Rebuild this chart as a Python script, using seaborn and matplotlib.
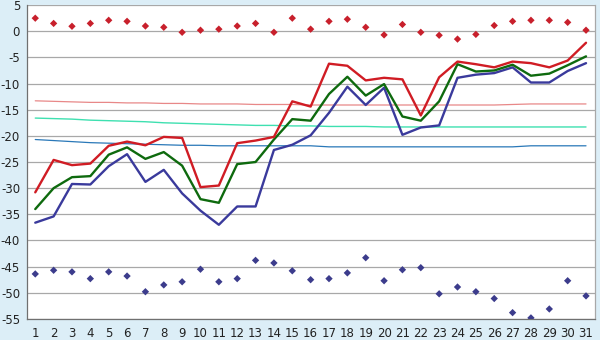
import matplotlib
matplotlib.use("Agg")
import matplotlib.pyplot as plt
import seaborn as sns
import pandas as pd

days = list(range(1, 32))

red_dots = [2.5, 1.5, 0.95, 1.5, 2.1, 1.9, 1.0, 0.76, -0.2, 0.2,
            0.4, 1.0, 1.5, -0.2, 2.5, 0.4, 1.9, 2.3, 0.76, -0.7,
            1.3, -0.2, -0.77, -1.5, -0.6, 1.1, 1.9, 2.1, 2.1, 1.7, 0.2]

blue_dots = [-46.4, -45.7, -46.0, -47.3, -46.0, -46.8, -49.8, -48.5, -47.9, -45.5,
             -47.9, -47.3, -43.8, -44.3, -45.8, -47.5, -47.3, -46.2, -43.3, -47.7,
             -45.6, -45.2, -50.2, -48.9, -49.8, -51.1, -53.8, -54.8, -53.1, -47.7, -50.6]

red_line = [-30.8, -24.6, -25.6, -25.3, -21.9, -21.1, -21.8, -20.2, -20.4, -29.8,
            -29.5, -21.4, -20.9, -20.2, -13.4, -14.4, -6.2, -6.6, -9.4, -8.9,
            -9.2, -16.1, -8.8, -5.8, -6.3, -6.9, -5.8, -6.1, -6.9, -5.6, -2.2]

green_line = [-34.0, -30.0, -27.9, -27.7, -23.6, -22.2, -24.4, -23.1, -25.7, -32.1,
              -32.8, -25.4, -25.0, -20.7, -16.8, -17.1, -12.0, -8.7, -12.3, -10.1,
              -16.3, -17.1, -13.4, -6.3, -7.7, -7.5, -6.4, -8.5, -8.1, -6.5, -4.8]

blue_line = [-36.6, -35.4, -29.2, -29.3, -25.8, -23.5, -28.8, -26.5, -31.0, -34.3,
             -37.0, -33.5, -33.5, -22.7, -21.7, -19.9, -15.6, -10.6, -14.1, -10.8,
             -19.8, -18.4, -18.0, -8.9, -8.3, -8.0, -6.9, -9.8, -9.8, -7.6, -6.1]

red_thin = [-13.3, -13.4, -13.5, -13.6, -13.6, -13.7, -13.7, -13.8, -13.8, -13.9,
            -13.9, -13.9, -14.0, -14.0, -14.0, -14.1, -14.1, -14.1, -14.1, -14.1,
            -14.1, -14.1, -14.1, -14.1, -14.1, -14.1, -14.0, -13.9, -13.9, -13.9, -13.9]

cyan_thin = [-16.6, -16.7, -16.8, -17.0, -17.1, -17.2, -17.3, -17.5, -17.6, -17.7,
             -17.8, -17.9, -18.0, -18.0, -18.1, -18.1, -18.2, -18.2, -18.2, -18.3,
             -18.3, -18.3, -18.3, -18.3, -18.3, -18.3, -18.3, -18.3, -18.3, -18.3, -18.3]

blue_thin = [-20.7, -20.9, -21.1, -21.3, -21.4, -21.5, -21.6, -21.7, -21.8, -21.8,
             -21.9, -21.9, -21.9, -21.9, -21.9, -21.9, -22.1, -22.1, -22.1, -22.1,
             -22.1, -22.1, -22.1, -22.1, -22.1, -22.1, -22.1, -21.9, -21.9, -21.9, -21.9]

y_ticks = list(range(-55, 6, 5))

sns.set_theme(style="white")
plt.rcParams['font.family'] = ['DejaVu Sans']
plt.rcParams['axes.unicode_minus'] = False

bg = "#dceef7"
fig = plt.figure(figsize=(6, 3.4), dpi=100, facecolor=bg)
ax = fig.add_axes([0.045, 0.062, 0.947, 0.923])
ax.set_facecolor("white")

df = pd.DataFrame({"day": days})

sns.lineplot(x=days, y=red_thin, ax=ax, color="#e88888", linewidth=0.9, zorder=2)
sns.lineplot(x=days, y=cyan_thin, ax=ax, color="#3ee0b0", linewidth=1.0, zorder=2)
sns.lineplot(x=days, y=blue_thin, ax=ax, color="#2a78b8", linewidth=0.9, zorder=2)
sns.lineplot(x=days, y=blue_line, ax=ax, color="#3a3a9c", linewidth=1.7, zorder=3)
sns.lineplot(x=days, y=green_line, ax=ax, color="#0e6a0e", linewidth=1.7, zorder=4)
sns.lineplot(x=days, y=red_line, ax=ax, color="#d01c24", linewidth=1.7, zorder=5)
sns.scatterplot(x=days, y=red_dots, ax=ax, color="#c8202c", marker="D", s=14,
                edgecolor="none", zorder=6)
sns.scatterplot(x=days, y=blue_dots, ax=ax, color="#3c3c8c", marker="D", s=14,
                edgecolor="none", zorder=6)

ax.set_xlim(0.55, 31.5)
ax.set_ylim(-55, 5)
ax.set_xticks(days)
ax.set_xticklabels([str(d) for d in days])
ax.set_yticks(y_ticks)
ax.set_yticklabels([str(v) for v in y_ticks])
ax.yaxis.grid(True, color="#a8a8a8", linewidth=0.9)
ax.xaxis.grid(False)
ax.set_axisbelow(True)
for s in ["top"]:
    ax.spines[s].set_visible(False)
ax.spines["right"].set_color("#a8a8a8")
ax.spines["left"].set_color("#707070")
ax.spines["bottom"].set_color("#707070")
for s in ax.spines.values():
    s.set_linewidth(0.9)
ax.tick_params(axis="x", direction="out", length=4, width=0.8, color="#333333",
               labelsize=8.5, pad=2, labelcolor="#222222")
ax.tick_params(axis="y", direction="out", length=3, width=0.8, color="#333333",
               labelsize=8.5, pad=2, labelcolor="#222222")
ax.set_xlabel("")
ax.set_ylabel("")
fig.savefig("out.png", dpi=100, facecolor=bg)
